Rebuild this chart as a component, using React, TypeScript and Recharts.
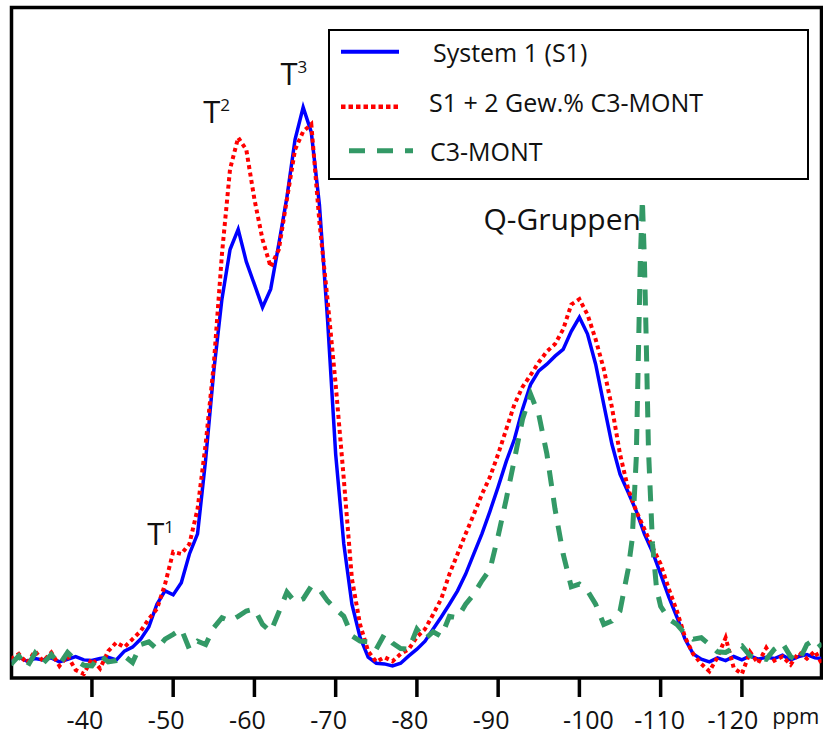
import React from 'react';
import { LineChart, Line, XAxis, YAxis, ReferenceArea, ReferenceDot, Legend } from 'recharts';

// shared chemical-shift grid (ppm) for the two S1 spectra
const ppmGrid = [
  -30, -31, -32, -33, -34, -35, -36, -37, -38, -39,
  -40, -41, -42, -43, -44, -45, -46, -47, -48, -49,
  -50, -51, -52, -53, -54, -55, -56, -57, -58, -59,
  -60, -61, -62, -63, -64, -65, -66, -67, -68, -69,
  -70, -71, -72, -73, -74, -75, -76, -77, -78, -79,
  -80, -81, -82, -83, -84, -85, -86, -87, -88, -89,
  -90, -91, -92, -93, -94, -95, -96, -97, -98, -99,
  -100, -101, -102, -103, -104, -105, -106, -107, -108, -109,
  -110, -111, -112, -113, -114, -115, -116, -117, -118, -119,
  -120, -121, -122, -123, -124, -125, -126, -127, -128, -129, -129.8,
];

// System 1 (S1)
const s1Values = [
  2.6, 3.1, 2.5, 2.9, 2.7, 3.0, 2.4, 2.8, 3.2, 2.7,
  2.6, 2.9, 3.1, 2.7, 4.0, 4.6, 5.8, 7.6, 11.0, 13.0,
  12.4, 14.2, 18.5, 21.5, 32.6, 45.8, 56.5, 63.9, 66.9, 62.1,
  58.7, 55.3, 58.0, 64.7, 71.7, 80.3, 85.1, 81.4, 70.6, 53.5,
  33.4, 20.0, 11.0, 6.1, 3.1, 2.2, 2.1, 1.8, 2.2, 3.3,
  4.3, 5.5, 7.3, 9.1, 11.0, 13.0, 15.5, 18.5, 21.5, 24.9,
  28.5, 32.3, 35.6, 40.1, 43.8, 45.8, 46.8, 48.0, 49.0, 51.7,
  53.8, 51.3, 46.8, 40.8, 34.9, 30.4, 27.7, 24.9, 21.5, 18.8,
  15.5, 12.1, 9.1, 5.8, 3.6, 2.8, 2.4, 3.0, 2.6, 3.2,
  2.7, 3.3, 2.8, 3.1, 2.9, 3.4, 2.7, 3.2, 3.5, 3.0, 2.9,
];

// S1 + 2 Gew.% C3-MONT
const s1MontValues = [
  2.8, 3.6, 2.2, 4.0, 2.5, 3.8, 1.8, 3.3, 1.2, 0.6,
  2.9, 1.4, 4.0, 5.3, 4.6, 5.8, 7.0, 8.8, 10.3, 14.0,
  18.8, 18.5, 20.0, 25.2, 34.9, 46.8, 63.2, 75.9, 80.6, 78.8,
  71.4, 65.4, 61.3, 63.9, 71.4, 78.8, 81.5, 82.6, 68.0, 56.4,
  43.8, 29.7, 14.8, 8.0, 4.0, 2.4, 3.1, 2.5, 3.6, 4.3,
  6.1, 7.3, 9.5, 11.8, 15.5, 18.5, 21.5, 24.4, 27.4, 30.0,
  33.4, 37.1, 40.8, 43.4, 45.2, 47.1, 48.7, 49.8, 52.0, 55.7,
  56.5, 54.2, 50.5, 46.1, 40.4, 33.4, 28.2, 24.9, 22.2, 19.5,
  17.0, 13.3, 10.0, 6.1, 3.6, 2.1, 1.0, 3.1, 6.0, 1.5,
  0.6, 3.9, 2.2, 4.5, 2.6, 3.2, 2.0, 3.8, 2.9, 4.0, 2.2,
];

// C3-MONT has its own grid (finer around the sharp Q line)
const montPpm = [
  -30, -31, -32, -33, -34, -35, -36, -37, -38, -39,
  -40, -41, -42, -43, -44, -45, -46, -47, -48, -49,
  -50, -51, -52, -53, -54, -55, -56, -57, -58, -59,
  -60, -61, -62, -63, -64, -65, -66, -67, -68, -69,
  -70, -71, -72, -73, -74, -75, -76, -77, -78, -79,
  -80, -81, -82, -83, -84, -85, -86, -87, -88, -89,
  -90, -91, -92, -93, -94, -95, -96, -97, -98, -99,
  -100, -101, -102, -103, -104, -105, -106, -106.5, -107, -107.25,
  -107.5, -107.75, -108, -108.25, -108.5, -109, -109.5, -110, -111, -112,
  -113, -114, -115, -116, -117, -118, -119, -120, -121, -122,
  -123, -124, -125, -126, -127, -128, -129, -129.8,
];

const montValues = [
  2.0, 3.3, 1.6, 3.7, 2.2, 3.5, 2.0, 3.8, 2.6, 1.9,
  1.8, 3.4, 2.4, 2.6, 3.3, 2.3, 5.0, 5.4, 4.3, 5.8,
  6.5, 7.3, 4.3, 5.5, 5.0, 7.5, 9.0, 8.5, 9.2, 10.0,
  10.3, 8.0, 6.9, 9.8, 12.8, 11.3, 11.8, 13.7, 13.2, 11.5,
  10.3, 9.2, 6.3, 5.5, 5.4, 4.3, 6.5, 5.2, 4.4, 4.3,
  7.3, 5.8, 6.9, 6.2, 9.2, 9.0, 11.0, 12.5, 14.5, 16.2,
  21.2, 26.7, 32.6, 38.6, 42.3, 39.3, 33.4, 25.2, 18.5, 13.6,
  14.0, 13.0, 11.0, 8.0, 8.5, 10.0, 16.2, 20.7, 32.8, 47.5,
  62.4, 71.4, 62.4, 49.0, 34.1, 20.0, 13.3, 10.7, 8.8, 8.0,
  6.6, 5.8, 6.0, 5.0, 3.9, 3.8, 4.5, 4.8, 3.3, 3.0,
  2.8, 4.3, 5.2, 3.2, 2.5, 5.0, 5.8, 4.6,
];

const ppmTicks = [-40, -50, -60, -70, -80, -90, -100, -110, -120];
const seriesNames = ['System 1 (S1)', 'S1 + 2 Gew.% C3-MONT', 'C3-MONT'];

const s1Rows = ppmGrid.map((ppm, i) => ({ ppm, s1: s1Values[i], s1mont: s1MontValues[i] }));
const montRows = montPpm.map((ppm, i) => ({ ppm, mont: montValues[i] }));

const FONT = "'Open Sans', 'Noto Sans', sans-serif";
const BLUE = '#0000ff';
const RED = '#ff0000';
const GREEN = '#339966';
const X_DOMAIN: [number, number] = [-129.8, -30.1];

// the labels in the original sit a little off their ticks
const labelNudge: Record<number, number> = { [-100]: 9, [-110]: -1, [-120]: -9 };

const PpmTick = ({ x, y, payload }: any) => (
  <text x={x + (labelNudge[payload.value] ?? -7)} y={y} dy={30} textAnchor="middle" fontSize={25} fill="#111" fontFamily={FONT}>
    {payload.value}
  </text>
);

const annotation = (main: string, sup?: string, size = 31) => ({ viewBox }: any) => (
  <text x={viewBox.x} y={viewBox.y} fontSize={size} fill="#111" fontFamily={FONT}>
    {main}
    {sup ? <tspan dy={-12} fontSize={17}>{sup}</tspan> : null}
  </text>
);

const renderLegend = () => (
  <svg width={481} height={151} style={{ display: 'block' }}>
    <rect x={1} y={1} width={479} height={149} fill="#fff" stroke="#000" strokeWidth={2} />
    <line x1={13} x2={71} y1={22.7} y2={22.7} stroke={BLUE} strokeWidth={4} />
    <text x={105} y={33} fontSize={25} fill="#111" fontFamily={FONT}>{seriesNames[0]}</text>
    <line x1={13} x2={71} y1={77.7} y2={77.7} stroke={RED} strokeWidth={4.5} strokeDasharray="4.5 3" />
    <text x={101} y={83} fontSize={25} fill="#111" fontFamily={FONT}>{seriesNames[1]}</text>
    <line x1={21} x2={85} y1={121.7} y2={121.7} stroke={GREEN} strokeWidth={5} strokeDasharray="16 12" />
    <text x={102} y={132} fontSize={25} fill="#111" fontFamily={FONT}>{seriesNames[2]}</text>
  </svg>
);

export default function App() {
  return (
    <div style={{ position: 'absolute', left: 0, top: 0, width: 823, height: 736, background: '#fff', fontFamily: FONT }}>
      <LineChart width={823} height={736} margin={{ top: 7.5, right: 1.5, bottom: 0, left: 11.5 }}>
        <XAxis
          type="number"
          dataKey="ppm"
          domain={X_DOMAIN}
          allowDataOverflow
          reversed
          ticks={ppmTicks}
          height={58}
          axisLine={false}
          tickSize={19}
          tickLine={{ stroke: '#000', strokeWidth: 3.5 }}
          tick={<PpmTick />}
          label={{
            value: 'ppm',
            content: ({ viewBox }: any) => (
              <text
                x={viewBox.x + viewBox.width - 2}
                y={viewBox.y + 46}
                textAnchor="end"
                fontSize={22}
                fill="#111"
                fontFamily={FONT}
              >
                ppm
              </text>
            ),
          }}
        />
        <YAxis type="number" domain={[0, 100]} allowDataOverflow hide />
        <Line data={s1Rows} dataKey="s1" name={seriesNames[0]} type="linear" stroke={BLUE} strokeWidth={3.5} dot={false} isAnimationActive={false} />
        <Line data={s1Rows} dataKey="s1mont" name={seriesNames[1]} type="linear" stroke={RED} strokeWidth={4} strokeDasharray="4 3.5" dot={false} isAnimationActive={false} />
        <Line data={montRows} dataKey="mont" name={seriesNames[2]} type="linear" stroke={GREEN} strokeWidth={5} strokeDasharray="16 12" dot={false} isAnimationActive={false} />
        <ReferenceArea x1={X_DOMAIN[1]} x2={X_DOMAIN[0]} y1={0} y2={100} fill="none" fillOpacity={0} stroke="#000" strokeWidth={3.5} ifOverflow="visible" />
        <ReferenceDot x={-46.8} y={19.8} r={0} fill="none" stroke="none" label={{ content: annotation('T', '1') }} />
        <ReferenceDot x={-53.7} y={82.8} r={0} fill="none" stroke="none" label={{ content: annotation('T', '2') }} />
        <ReferenceDot x={-63.2} y={88.4} r={0} fill="none" stroke="none" label={{ content: annotation('T', '3') }} />
        <ReferenceDot x={-88.2} y={66.8} r={0} fill="none" stroke="none" label={{ content: annotation('Q-Gruppen', undefined, 30) }} />
        <Legend
          layout="vertical"
          align="center"
          verticalAlign="middle"
          wrapperStyle={{ left: 328, top: 29, width: 481, height: 151 }}
          content={renderLegend}
        />
      </LineChart>
    </div>
  );
}
